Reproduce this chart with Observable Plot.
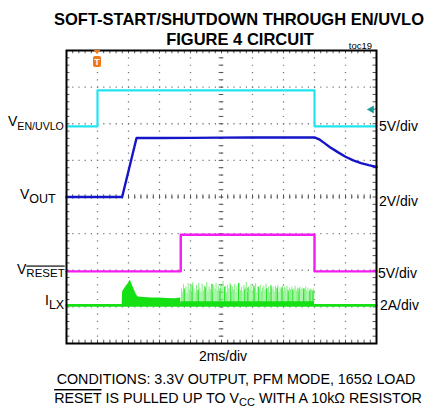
<!DOCTYPE html>
<html><head><meta charset="utf-8">
<script src="https://cdn.jsdelivr.net/npm/d3@7"></script>
<script src="https://cdn.jsdelivr.net/npm/@observablehq/plot@0.6"></script>
<style>
html,body{margin:0;padding:0;background:#fff;}
#chart{position:relative;width:428px;height:408px;}
svg{display:block;}
</style></head><body><div id="chart"></div>
<script>
// ---- data (time in ms, 2 ms/div) ----
const enTime   = [0, 2, 2, 16, 16, 20];
const enVolts  = [0, 0, 4.9, 4.9, 0, 0];
const enTriggerVolts = 2.3;

const voutTime  = [0, 3.59, 4.52, 6, 8, 10, 12, 14, 16, 16.3, 16.6, 17.0, 17.5, 18, 18.5, 19, 19.5, 20];
const voutVolts = [0, 0, 3.22, 3.22, 3.23, 3.24, 3.25, 3.25, 3.25, 3.15, 2.97, 2.72, 2.45, 2.2, 2.0, 1.85, 1.74, 1.64];

const resetTime  = [0, 7.37, 7.37, 16, 16, 20];
const resetVolts = [0, 0, 5, 5, 0, 0];

const ilxTime = [0, 20];
const ilxAmps = [0, 0];
const humpTime = [3.59, 3.62, 3.7, 3.8, 3.9, 4.0, 4.05, 4.13, 4.2, 4.3, 4.4, 4.5, 4.6, 4.8, 5.0, 5.5, 6.0, 6.5, 7.0, 7.37];
const humpAmps = [0, 0.75, 0.85, 0.98, 1.1, 1.2, 1.3, 1.37, 1.2, 1.0, 0.8, 0.6, 0.47, 0.44, 0.43, 0.41, 0.4, 0.38, 0.37, 0.4];
const bandTime = [7.37, 16];
const bandAmps = [0.2, 0.2];
const spikeTime = [7.42,7.5,7.55,7.63,7.7,7.78,7.85,7.93,8.0,8.08,8.15,8.22,8.3,8.38,8.45,8.53,8.6,8.68,8.75,8.83,8.9,8.98,9.05,9.13,9.2,9.28,9.35,9.43,9.5,9.58,9.65,9.73,9.8,9.88,9.95,10.03,10.1,10.18,10.25,10.33,10.4,10.48,10.55,10.63,10.7,10.78,10.85,10.93,11.0,11.08,11.15,11.23,11.3,11.38,11.45,11.53,11.6,11.68,11.75,11.83,11.9,11.98,12.05,12.13,12.2,12.28,12.35,12.43,12.5,12.58,12.65,12.73,12.8,12.88,12.95,13.03,13.1,13.18,13.25,13.33,13.4,13.48,13.55,13.63,13.7,13.78,13.85,13.93,14.0,14.08,14.15,14.23,14.3,14.38,14.45,14.53,14.6,14.68,14.75,14.83,14.9,14.98,15.05,15.13,15.2,15.28,15.35,15.43,15.5,15.58,15.65,15.73,15.8,15.88,15.95];
const spikeAmps = [0.9,0.7,1.15,0.8,1.0,0.65,1.2,0.85,1.05,0.75,1.25,0.9,0.7,1.1,0.85,1.2,0.95,0.7,1.15,0.8,1.05,0.9,1.25,0.75,1.0,0.85,1.15,0.7,1.1,0.9,1.2,0.8,1.0,0.75,1.15,0.95,1.3,0.8,1.05,0.7,1.1,0.9,1.2,0.75,1.0,0.85,1.15,0.7,1.05,0.9,1.2,0.8,1.0,0.75,1.1,0.95,1.25,0.7,1.0,0.85,1.15,0.8,1.05,0.9,1.2,0.7,1.0,0.85,1.1,0.75,0.95,1.05,0.8,1.15,0.9,1.0,0.7,1.1,0.85,1.0,0.75,1.05,0.9,1.1,0.7,0.95,0.85,1.05,0.75,1.0,0.9,1.05,0.7,0.95,0.85,1.0,0.75,0.9,1.05,0.8,0.95,0.7,1.0,0.85,0.95,0.75,0.9,1.0,0.8,0.95,0.7,0.9,0.85,0.75,0.9];
const brightTime = [7.6,8.1,8.5,8.95,9.4,9.9,10.2,10.6,11.1,11.5,11.7,12.1,12.4,12.9,13.2,13.6,13.9,14.3,14.6,15.0,15.3,15.7,15.9];
const brightAmps = [0.9,1.1,0.8,1.0,1.15,0.9,1.0,1.1,1.2,0.85,0.95,1.05,1.0,0.9,1.05,0.95,0.95,0.8,0.85,0.9,0.9,0.8,0.8];

// channel ground position (divisions from bottom) and units per division
const chEN    = {ground: 5.93, perDiv: 5};
const chVOUT  = {ground: 4.0,  perDiv: 2};
const chRESET = {ground: 1.97, perDiv: 5};
const chILX   = {ground: 1.04, perDiv: 2};
const toDiv = (ch, v) => ch.ground + v / ch.perDiv;

const gridX = [2, 4, 6, 8, 10, 12, 14, 16, 18];
const gridY = [1, 2, 3, 4, 5, 6, 7];
const minorX = d3.range(0, 20.0001, 0.4);
const minorY = d3.range(0, 8.0001, 0.2);
const idx = a => a.map((_, i) => i);

const cyan = "#22e4ee", blue = "#1414c8", magenta = "#f41cf0", green = "#14e014", lightGreen = "#8cf08c";

const plot = Plot.plot({
  width: 428, height: 408,
  marginTop: 50, marginBottom: 65, marginLeft: 66, marginRight: 52,
  x: {domain: [0, 20], axis: null},
  y: {domain: [0, 8], axis: null},
  style: {background: "white"},
  marks: [
    Plot.ruleY(gridY, {y: d => d, stroke: "#777", strokeWidth: 1.3, strokeDasharray: "1.2,5"}),
    Plot.ruleX(gridX, {x: d => d, stroke: "#777", strokeWidth: 1.3, strokeDasharray: "1.2,6.12"}),
    // minor ticks on frame edges and centre lines
    Plot.ruleX(minorX, {x: d => d, y1: 8, y2: 7.91, stroke: "#555"}),
    Plot.ruleX(minorX, {x: d => d, y1: 0, y2: 0.09, stroke: "#555"}),
    Plot.ruleX(minorX, {x: d => d, y1: 3.94, y2: 4.06, stroke: "#555"}),
    Plot.ruleY(minorY, {y: d => d, x1: 0, x2: 0.22, stroke: "#555"}),
    Plot.ruleY(minorY, {y: d => d, x1: 19.78, x2: 20, stroke: "#555"}),
    Plot.ruleY(minorY, {y: d => d, x1: 9.85, x2: 10.15, stroke: "#555"}),
    // I_LX
    Plot.ruleX(idx(spikeTime), {x: i => spikeTime[i], y1: toDiv(chILX, 0), y2: i => toDiv(chILX, spikeAmps[i]), stroke: lightGreen, strokeWidth: 1.1}),
    Plot.ruleX(idx(brightTime), {x: i => brightTime[i], y1: toDiv(chILX, 0), y2: i => toDiv(chILX, brightAmps[i]), stroke: green, strokeWidth: 0.9}),
    Plot.areaY(idx(bandTime), {x: i => bandTime[i], y1: toDiv(chILX, 0), y2: i => toDiv(chILX, bandAmps[i]), fill: green}),
    Plot.areaY(idx(humpTime), {x: i => humpTime[i], y1: toDiv(chILX, 0), y2: i => toDiv(chILX, humpAmps[i]), fill: green}),
    Plot.line(idx(ilxTime), {x: i => ilxTime[i], y: i => toDiv(chILX, ilxAmps[i]), stroke: green, strokeWidth: 2.6}),
    // RESET
    Plot.line(idx(resetTime), {x: i => resetTime[i], y: i => toDiv(chRESET, resetVolts[i]), stroke: magenta, strokeWidth: 2.4}),
    // VOUT
    Plot.line(idx(voutTime), {x: i => voutTime[i], y: i => toDiv(chVOUT, voutVolts[i]), stroke: blue, strokeWidth: 2.4}),
    // EN/UVLO
    Plot.line(idx(enTime), {x: i => enTime[i], y: i => toDiv(chEN, enVolts[i]), stroke: cyan, strokeWidth: 2.2}),
    Plot.dot([enTriggerVolts], {x: 20, y: d => toDiv(chEN, d), symbol: "triangle", rotate: -90, r: 3, fill: "#179c9c", dx: -5}),
    Plot.frame({stroke: "black", strokeWidth: 2})
  ]
});
document.getElementById("chart").appendChild(plot);

// ---- texts ----
const svg = d3.select(plot);
const font = "'Liberation Sans', Arial, sans-serif";
const xs = plot.scale("x");

// trigger position marker
const tx = xs.apply(2);
const trig = svg.append("g");
trig.append("path").attr("d", `M${tx-3.5},50 L${tx+3.5},50 L${tx},54 Z`).attr("fill", "#f07818");
trig.append("rect").attr("x", tx-4).attr("y", 56).attr("width", 8).attr("height", 11).attr("rx", 2).attr("fill", "#f07818");
trig.append("text").attr("x", tx).attr("y", 65).attr("text-anchor", "middle").attr("fill", "white")
  .attr("font-family", font).attr("font-weight", "bold").attr("font-size", 9).text("T");

const txt = (x, y, s, size, opts = {}) => {
  const t = svg.append("text").attr("x", x).attr("y", y).attr("font-family", font)
    .attr("font-size", size).attr("fill", "black").attr("text-anchor", opts.anchor || "start");
  if (opts.bold) t.attr("font-weight", "bold");
  if (s !== null) t.text(s);
  return t;
};

txt(239, 25, "SOFT-START/SHUTDOWN THROUGH EN/UVLO", 16.5, {anchor: "middle", bold: true});
txt(240, 45, "FIGURE 4 CIRCUIT", 16.5, {anchor: "middle", bold: true});
txt(372, 49, "toc19", 9.5, {anchor: "end"});

// left channel labels
function sublabel(x, y, main, sub, subDy, subSize, overline) {
  const t = svg.append("text").attr("x", x).attr("y", y).attr("font-family", font).attr("font-size", 14)
    .attr("fill", "black").attr("text-anchor", "start");
  t.append("tspan").text(main);
  const s = t.append("tspan").attr("dy", subDy).attr("font-size", subSize).text(sub);
  if (overline) s.attr("text-decoration", "overline");
}
sublabel(8, 126, "V", "EN/UVLO", 4, 10.6);
sublabel(20, 199, "V", "OUT", 4, 12.5);
sublabel(17, 273.5, "V", "RESET", 3, 11.5, true);
sublabel(45, 305, "I", "LX", 3.5, 12.5);

// right scale labels
txt(379, 131, "5V/div", 14);
txt(379, 205.5, "2V/div", 14);
txt(378, 278, "5V/div", 14);
txt(380, 310, "2A/div", 14);

// bottom
txt(223, 361, "2ms/div", 14, {anchor: "middle"});
txt(236, 383.5, "CONDITIONS: 3.3V OUTPUT, PFM MODE, 165Ω LOAD", 14.3, {anchor: "middle"});
const l2 = txt(238, 403, null, 14.3, {anchor: "middle"});
l2.append("tspan").attr("text-decoration", "overline").text("RESET");
l2.append("tspan").text(" IS PULLED UP TO V");
l2.append("tspan").attr("font-size", 11).attr("dy", 3).text("CC");
l2.append("tspan").attr("dy", -3).text(" WITH A 10kΩ RESISTOR");
</script>
</body></html>
